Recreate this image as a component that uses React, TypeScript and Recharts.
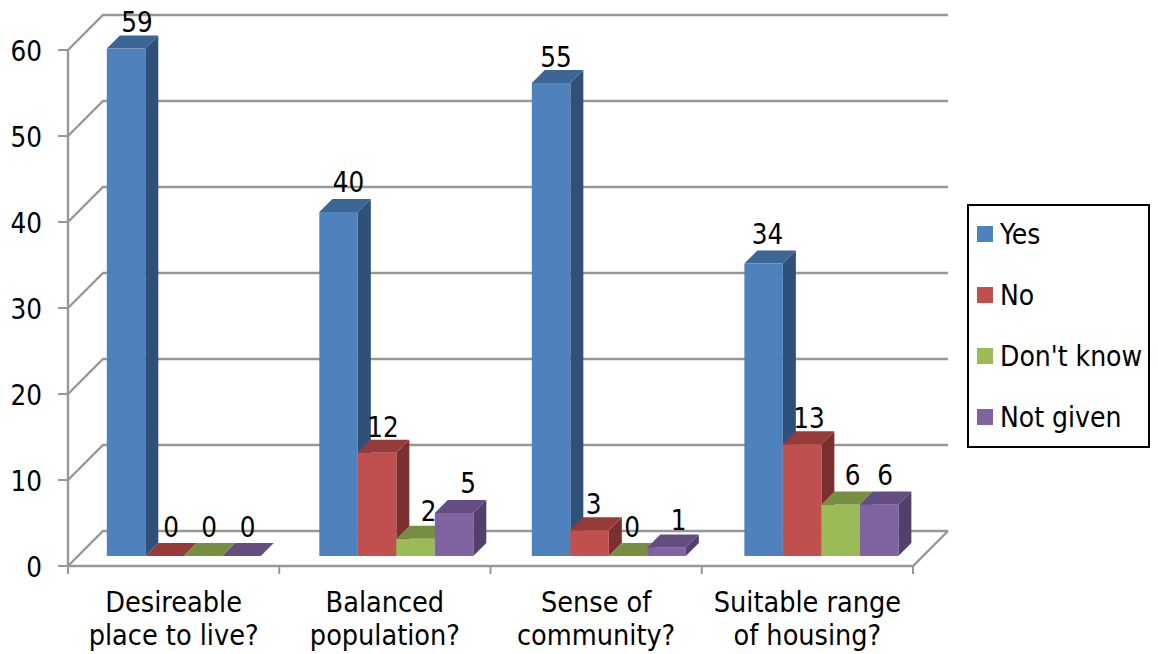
import { BarChart, Bar, XAxis, YAxis, CartesianGrid, Legend, LabelList } from "recharts";

const categories = [
  "Desireable\nplace to live?",
  "Balanced\npopulation?",
  "Sense of\ncommunity?",
  "Suitable range\nof housing?",
];
const yes = [59, 40, 55, 34];
const no = [0, 12, 3, 13];
const dontKnow = [0, 2, 0, 6];
const notGiven = [0, 5, 1, 6];
const yTicks = [0, 10, 20, 30, 40, 50, 60];

const data = categories.map((name, i) => ({
  name,
  yes: yes[i],
  no: no[i],
  dontKnow: dontKnow[i],
  notGiven: notGiven[i],
}));

const FONT = "'DejaVu Sans Condensed', 'DejaVu Sans', sans-serif";
const FONT_SIZE = 28.5;
const NUM_SIZE = 27.5;
const GRID = "#979797";
const WALL = 35; // depth of the back wall
const SHIFT_X = 9.8; // bars stand a bit inside the floor
const DRIFT_X = 1.27; // the 3D projection pulls later groups to the right
const SHIFT_Y = -10;
const DEPTH = 13;

// [front, top, side]
const FACES = {
  yes: ["#4F81BD", "#3D6595", "#2F5079"],
  no: ["#C0504D", "#963B39", "#7B2F2E"],
  dontKnow: ["#9BBB59", "#788F43", "#607336"],
  notGiven: ["#8064A2", "#644D80", "#523F6B"],
};

// the data labels were moved by hand in the original, one nudge per category
const LABEL_X = {
  yes: [11, 10, 5, 4],
  no: [6.5, 6, 4, 7],
  dontKnow: [6, 13, 4, 12],
  notGiven: [6, 14, 12, 6],
};
const LABEL_GAP = {
  yes: [4, 7, 3, 7],
  no: [6, 3, 3, 3],
  dontKnow: [6, 5, 6, 6],
  notGiven: [6, 7, 4, 6],
};

function Bar3D({ x, y, width, height, fill, top, side, index }: any) {
  const x0 = x + SHIFT_X + index * DRIFT_X;
  const x1 = x0 + width;
  const y0 = y + SHIFT_Y;
  const y1 = y0 + height;
  return (
    <g>
      <polygon
        points={`${x1},${y0} ${x1 + DEPTH},${y0 - DEPTH} ${x1 + DEPTH},${y1 - DEPTH} ${x1},${y1}`}
        fill={side}
      />
      <rect x={x0} y={y0} width={width} height={height} fill={fill} />
      <polygon
        points={`${x0},${y0} ${x0 + DEPTH},${y0 - DEPTH} ${x1 + DEPTH},${y0 - DEPTH} ${x1},${y0}`}
        fill={top}
      />
    </g>
  );
}

function barLabel(key: keyof typeof LABEL_X) {
  return ({ x, y, width, value, index }: any) => (
    <text
      x={x + width / 2 + SHIFT_X + index * DRIFT_X + LABEL_X[key][index]}
      y={y + SHIFT_Y - DEPTH - LABEL_GAP[key][index]}
      textAnchor="middle"
      fontFamily={FONT}
      fontSize={NUM_SIZE}
      fill="#000"
    >
      {value}
    </text>
  );
}

// wall line for one y tick: diagonal up the side wall, then along the back
function WallLine({ x1, x2, y1, index }: any) {
  const isFloor = index === 0;
  return (
    <g stroke={GRID} strokeWidth={2.4} fill="none">
      <polyline points={`${x1},${y1} ${x1 + WALL},${y1 - WALL} ${x2 + WALL},${y1 - WALL}`} />
      {isFloor && <polyline points={`${x1},${y1} ${x2},${y1} ${x2 + WALL},${y1 - WALL}`} />}
    </g>
  );
}

function CategoryTick({ x, y, payload, width, visibleTicksCount, index }: any) {
  const band = width / visibleTicksCount;
  const lines = String(payload.value).split("\n");
  return (
    <g>
      <line x1={x - band / 2} y1={y} x2={x - band / 2} y2={y + 8} stroke={GRID} strokeWidth={2} />
      {index === visibleTicksCount - 1 && (
        <line x1={x + band / 2} y1={y} x2={x + band / 2} y2={y + 8} stroke={GRID} strokeWidth={2} />
      )}
      {lines.map((line, i) => (
        <text
          key={i}
          x={x}
          y={y + 46 + i * 33}
          textAnchor="middle"
          fontFamily={FONT}
          fontSize={FONT_SIZE}
          fill="#000"
        >
          {line}
        </text>
      ))}
    </g>
  );
}

function LegendBox({ payload }: any) {
  return (
    <div
      style={{
        position: "absolute",
        left: 967,
        top: 204,
        width: 183,
        height: 244,
        boxSizing: "border-box",
        border: "2px solid #000",
        background: "#fff",
        fontFamily: FONT,
        fontSize: 28,
      }}
    >
      {(payload || []).map((item: any, i: number) => (
        <div
          key={item.value}
          style={{
            position: "absolute",
            left: 8,
            top: 10 + i * 61,
            display: "flex",
            alignItems: "center",
            height: 36,
            whiteSpace: "nowrap",
          }}
        >
          <span style={{ width: 16, height: 16, background: item.color, marginRight: 7 }} />
          {item.value}
        </div>
      ))}
    </div>
  );
}

export default function App() {
  return (
    <div style={{ position: "absolute", left: 0, top: 0, width: 1158, height: 654 }}>
      <BarChart
        width={1158}
        height={654}
        data={data}
        margin={{ top: 50, right: 245, bottom: 0, left: 0 }}
        barSize={38.5}
        barGap={0}
      >
        <CartesianGrid horizontal={(props: any) => <WallLine key={props.key} {...props} />} vertical={false} />
        <XAxis
          dataKey="name"
          height={88}
          axisLine={false}
          tickLine={false}
          tickSize={0}
          tickMargin={0}
          interval={0}
          tick={(props: any) => <CategoryTick {...props} />}
        />
        <YAxis
          width={68}
          domain={[0, 60]}
          ticks={yTicks}
          tickSize={10}
          tickMargin={16}
          axisLine={{ stroke: GRID, strokeWidth: 2.4 }}
          tickLine={{ stroke: GRID, strokeWidth: 2 }}
          tick={{ fontFamily: FONT, fontSize: NUM_SIZE, fill: "#000", dy: 1 }}
        />
        <Legend
          layout="horizontal"
          verticalAlign="middle"
          align="right"
          itemSorter={null}
          content={(props: any) => <LegendBox {...props} />}
          wrapperStyle={{ left: 0, top: 0, width: 0, height: 0 }}
        />
        <Bar dataKey="yes" name="Yes" fill={FACES.yes[0]} isAnimationActive={false} shape={(p: any) => <Bar3D {...p} top={FACES.yes[1]} side={FACES.yes[2]} />}>
          <LabelList dataKey="yes" content={barLabel("yes")} />
        </Bar>
        <Bar dataKey="no" name="No" fill={FACES.no[0]} isAnimationActive={false} shape={(p: any) => <Bar3D {...p} top={FACES.no[1]} side={FACES.no[2]} />}>
          <LabelList dataKey="no" content={barLabel("no")} />
        </Bar>
        <Bar dataKey="dontKnow" name="Don't know" fill={FACES.dontKnow[0]} isAnimationActive={false} shape={(p: any) => <Bar3D {...p} top={FACES.dontKnow[1]} side={FACES.dontKnow[2]} />}>
          <LabelList dataKey="dontKnow" content={barLabel("dontKnow")} />
        </Bar>
        <Bar dataKey="notGiven" name="Not given" fill={FACES.notGiven[0]} isAnimationActive={false} shape={(p: any) => <Bar3D {...p} top={FACES.notGiven[1]} side={FACES.notGiven[2]} />}>
          <LabelList dataKey="notGiven" content={barLabel("notGiven")} />
        </Bar>
      </BarChart>
    </div>
  );
}
